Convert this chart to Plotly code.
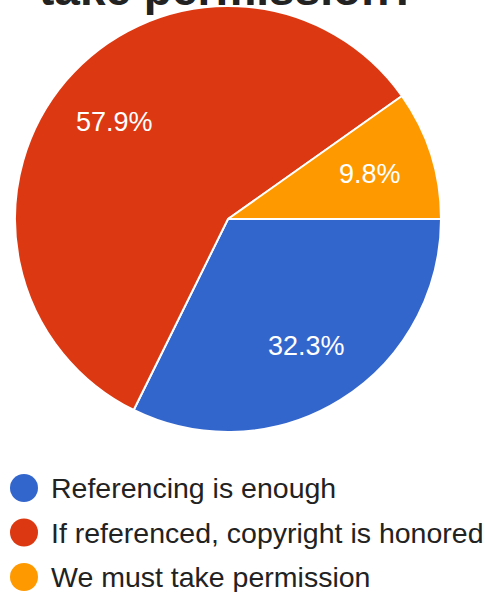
import math
import plotly.graph_objects as go

title_text = "take permission?"
labels = ["Referencing is enough", "If referenced, copyright is honored", "We must take permission"]
values = [32.3, 57.9, 9.8]
colors = ["#3366cc", "#dc3912", "#ff9900"]

W, H = 487, 592
cx, cy, r = 228, 219, 213
FONT = "Liberation Sans, Arial, sans-serif"

fig = go.Figure()
fig.add_trace(go.Pie(
    labels=labels,
    values=values,
    sort=False,
    direction="clockwise",
    rotation=90,
    marker=dict(colors=colors, line=dict(color="white", width=2)),
    textinfo="none",
    showlegend=False,
    hoverinfo="label+percent",
    domain=dict(x=[(cx - r) / W, (cx + r) / W], y=[1 - (cy + r) / H, 1 - (cy - r) / H]),
))

annotations = [dict(
    text="<b>" + title_text + "</b>", x=cx / W, y=1 - 17 / H, xref="paper", yref="paper",
    xanchor="center", yanchor="bottom", showarrow=False,
    font=dict(size=46, color="#222222", family=FONT),
)]

# slice percentage labels placed along each slice's bisector at 0.7 r
total = sum(values)
start = 0.0  # degrees clockwise from 3 o'clock
for v in values:
    mid = start + 360 * v / total / 2
    start += 360 * v / total
    px = cx + 0.70 * r * math.cos(math.radians(mid))
    py = cy + 0.70 * r * math.sin(math.radians(mid))
    annotations.append(dict(text=f"{100 * v / total:.1f}%", x=px / W, y=1 - py / H,
                            xref="paper", yref="paper", xanchor="center", yanchor="middle",
                            showarrow=False, font=dict(size=27, color="white", family=FONT)))

shapes = []
for i, (lab, col) in enumerate(zip(labels, colors)):
    yc = 488 + i * 44.5
    shapes.append(dict(type="circle", xref="paper", yref="paper",
                       x0=(24 - 14) / W, x1=(24 + 14) / W,
                       y0=1 - (yc + 14) / H, y1=1 - (yc - 14) / H,
                       fillcolor=col, line=dict(width=0)))
    annotations.append(dict(text=lab, x=49 / W, y=1 - yc / H, xref="paper", yref="paper",
                            xanchor="left", yanchor="middle", showarrow=False,
                            font=dict(size=28.5, color="#222222", family=FONT)))

fig.update_layout(
    width=W, height=H,
    margin=dict(l=0, r=0, t=0, b=0),
    paper_bgcolor="white", plot_bgcolor="white",
    annotations=annotations, shapes=shapes,
)
fig.write_html("out.html", config={"displayModeBar": False},
               post_script="document.body.style.margin='0';")
